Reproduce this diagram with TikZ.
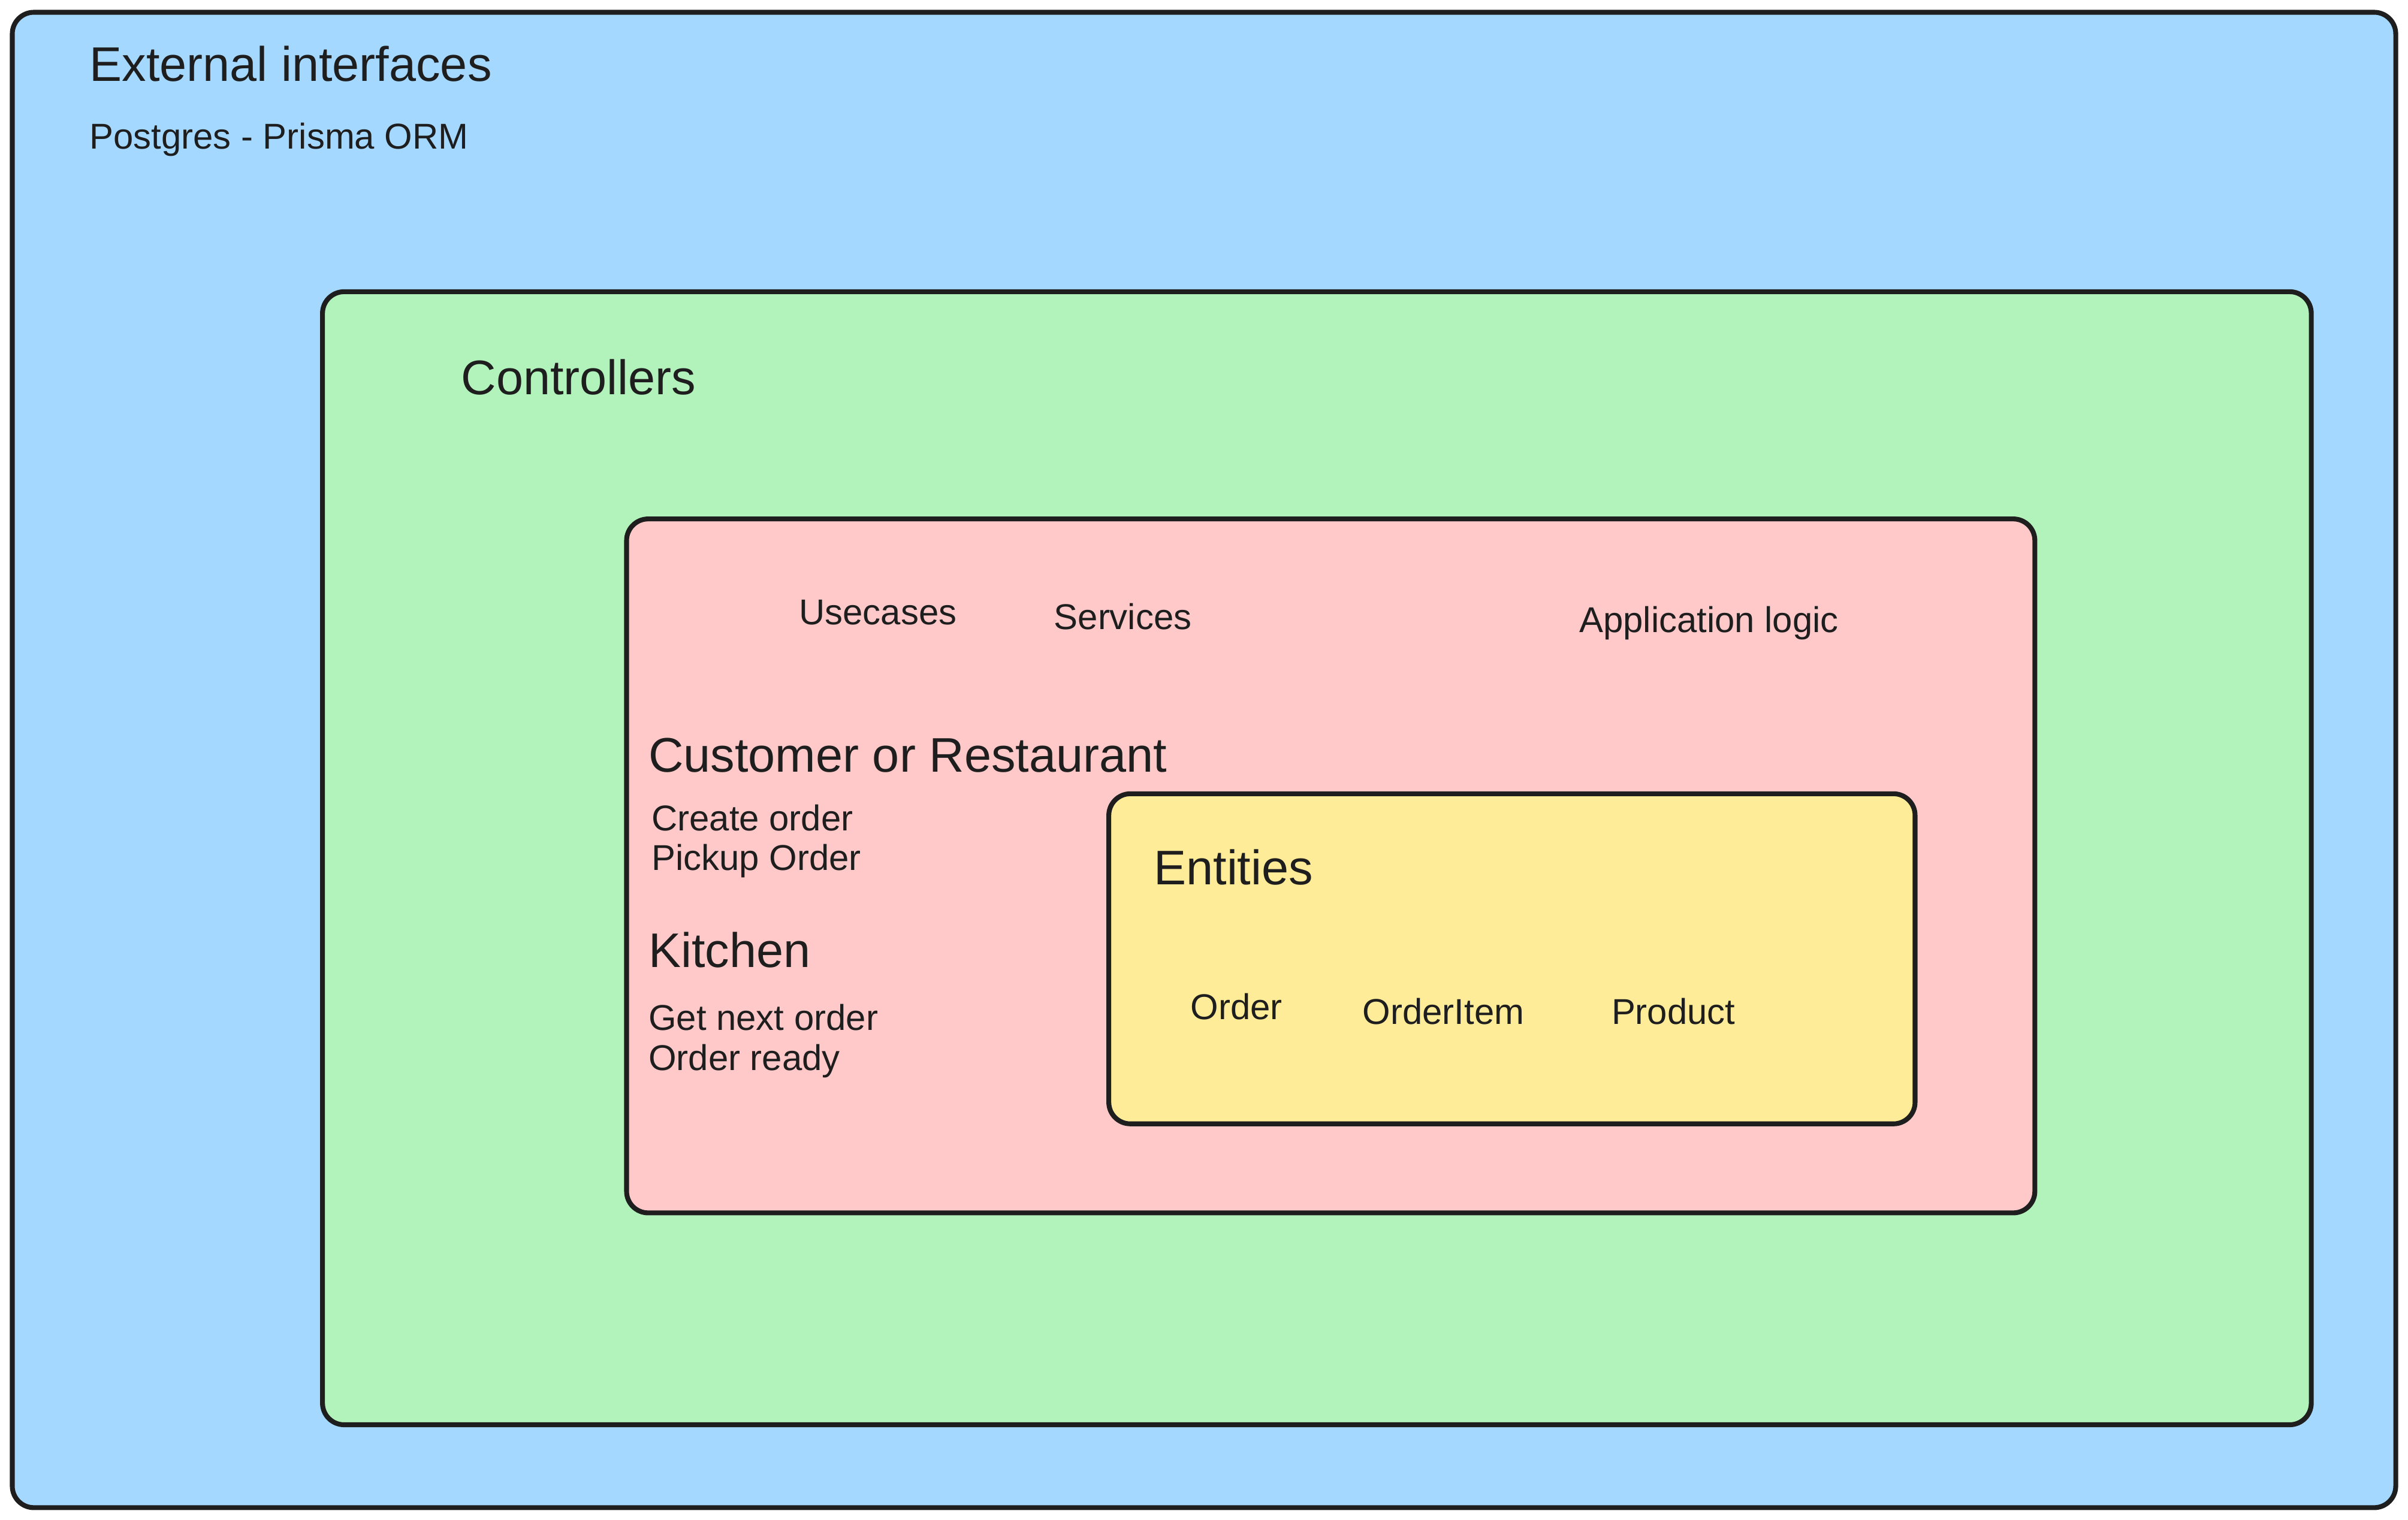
\documentclass[tikz,border=0pt]{standalone}
\usepackage{fontspec}
\setmainfont{Liberation Sans}
\usepackage{tikz}

\definecolor{extblue}{HTML}{A5D8FF}
\definecolor{ctrlgreen}{HTML}{B2F2BB}
\definecolor{appred}{HTML}{FFC9C9}
\definecolor{entyellow}{HTML}{FFEC99}
\definecolor{ink}{HTML}{1E1E1E}

\tikzset{
  layer/.style={draw=ink,line width=1.8pt,rounded corners=8pt},
  title/.style={anchor=base west,inner sep=0pt,text=ink,font=\fontsize{18}{20}\selectfont},
  label/.style={anchor=base west,inner sep=0pt,text=ink,font=\fontsize{13.3}{16}\selectfont}
}

\begin{document}
\begin{tikzpicture}[x=0.02cm,y=-0.02cm]
        \useasboundingbox (0,0) rectangle (1568,990);
        \fill[white] (0,0) rectangle (1568,990);
        % layers
        \draw[layer,fill=extblue] (8,8) rectangle (1560,982);
        \draw[layer,fill=ctrlgreen] (210,190) rectangle (1505,928);
        \draw[layer,fill=appred] (408,338) rectangle (1325,790);
        \draw[layer,fill=entyellow] (722,517) rectangle (1247,732);
        % external interfaces
        \draw (58,53) node[title] (ext) {External interfaces};
        \draw (58,97) node[label] (db) {Postgres - Prisma ORM};
        % controllers
        \draw (300,257) node[title] (ctrl) {Controllers};
        % application logic
        \draw (520,407) node[label] (uc) {Usecases};
        \draw (686,410) node[label] (srv) {Services};
        \draw (1028,412) node[label] (app) {Application logic};
        \draw (422,503) node[title] (cust) {Customer or Restaurant};
        \draw (424,541) node[label] (create) {Create order};
        \draw (424,567) node[label] (pickup) {Pickup Order};
        \draw (422,630) node[title] (kitchen) {Kitchen};
        \draw (422,671) node[label] (next) {Get next order};
        \draw (422,697) node[label] (ready) {Order ready};
        % entities
        \draw (751,576) node[title] (ent) {Entities};
        \draw (775,664) node[label] (order) {Order};
        \draw (887,667) node[label] (item) {OrderItem};
        \draw (1049,667) node[label] (prod) {Product};
    \end{tikzpicture}
\end{document}
